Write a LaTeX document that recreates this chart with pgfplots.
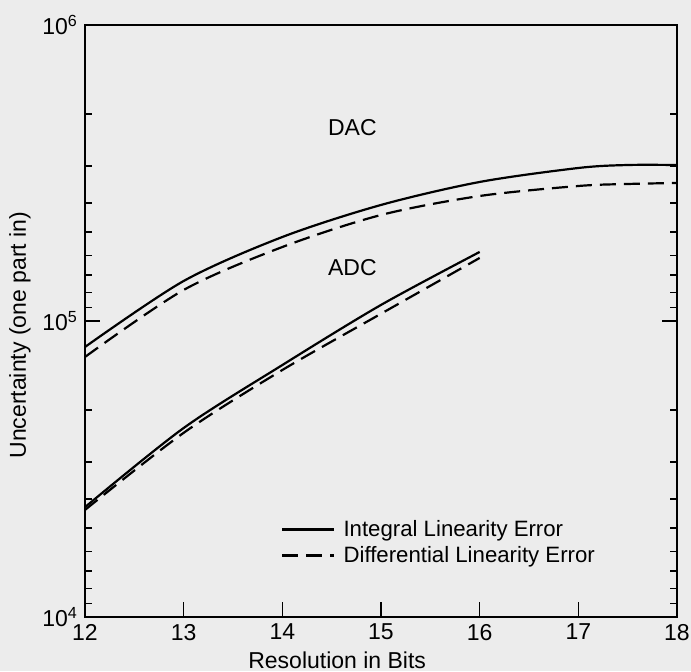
\documentclass[border=0pt]{standalone}
\usepackage{fontspec}
\setmainfont{Liberation Sans}
\usepackage{pgfplots}
\pgfplotsset{compat=1.18}
\usetikzlibrary{backgrounds}
\definecolor{paper}{RGB}{236,236,236}

\begin{document}
\begin{tikzpicture}
\begin{axis}[name=ax, at={(0,0)}, anchor=south west,
    scale only axis, width=296pt, height=296pt,
    xmin=12, xmax=18, ymode=log, ymin=1e4, ymax=1e6,
    xtick={12,13,14,15,16,17,18}, xtick pos=bottom,
    ytick pos=both, tick align=inside,
    ytick={1e4,1e5,1e6},
    yticklabels={10\textsuperscript{4},10\textsuperscript{5},10\textsuperscript{6}},
    minor ytick={1.1111e4,1.25e4,1.4286e4,1.6667e4,2e4,2.5e4,3.3333e4,5e4,
                 1.1111e5,1.25e5,1.4286e5,1.6667e5,2e5,2.5e5,3.3333e5,5e5},
    major tick length=7.5pt, minor tick length=3.5pt,
    axis line style={line width=0.9pt},
    every tick/.style={black, line width=0.8pt},
    tick label style={font=\fontsize{11.5}{13}\selectfont},
    /pgf/number format/assume math mode=true,
    xlabel={Resolution in Bits},
    ylabel={Uncertainty (one part in)},
    label style={font=\fontsize{11.5}{13}\selectfont},
    xlabel style={at={(axis description cs:0.426,-0.0726)}, anchor=center},
    ylabel style={at={(axis description cs:-0.11,0.476)}, anchor=center},
    legend style={at={(axis description cs:0.331,0.168)}, anchor=north west,
        draw=none, fill=none, inner sep=0pt, row sep=1.5pt, column sep=3pt,
        nodes={inner sep=1pt},
        font=\fontsize{11.1}{12}\selectfont},
    legend cell align=left,
    legend image code/.code={\draw[#1] (0pt,0pt) -- (26pt,0pt);},
]
% DAC
\addplot[black, line width=1.1pt, smooth] coordinates {
    (12,8.17e4) (13,1.365e5) (14,1.922e5) (15,2.466e5) (16,2.949e5) (17,3.288e5) (17.5,3.365e5) (18,3.365e5)};
\addlegendentry{Integral Linearity Error}
\addplot[black, line width=1.1pt, smooth, dash pattern=on 8pt off 4pt] coordinates {
    (12,7.56e4) (13,1.273e5) (14,1.778e5) (15,2.281e5) (16,2.644e5) (17,2.858e5) (17.5,2.903e5) (18,2.926e5)};
\addlegendentry{Differential Linearity Error}
% ADC
\addplot[black, line width=1.1pt, smooth, forget plot] coordinates {
    (12,2.35e4) (13,4.35e4) (14,7.1e4) (15,1.133e5) (16,1.711e5)};
\addplot[black, line width=1.1pt, smooth, dash pattern=on 8pt off 4pt, forget plot] coordinates {
    (12,2.3e4) (13,4.19e4) (14,6.83e4) (15,1.058e5) (16,1.633e5)};
\node[font=\fontsize{11.5}{13}\selectfont] at (axis cs:14.71,4.49e5) {DAC};
\node[font=\fontsize{11.5}{13}\selectfont] at (axis cs:14.71,1.51e5) {ADC};
\end{axis}
\pgfresetboundingbox
\begin{scope}[on background layer]
\fill[paper] (-42.5pt,-27pt) rectangle (303pt,308.5pt);
\end{scope}
\end{tikzpicture}
\end{document}
